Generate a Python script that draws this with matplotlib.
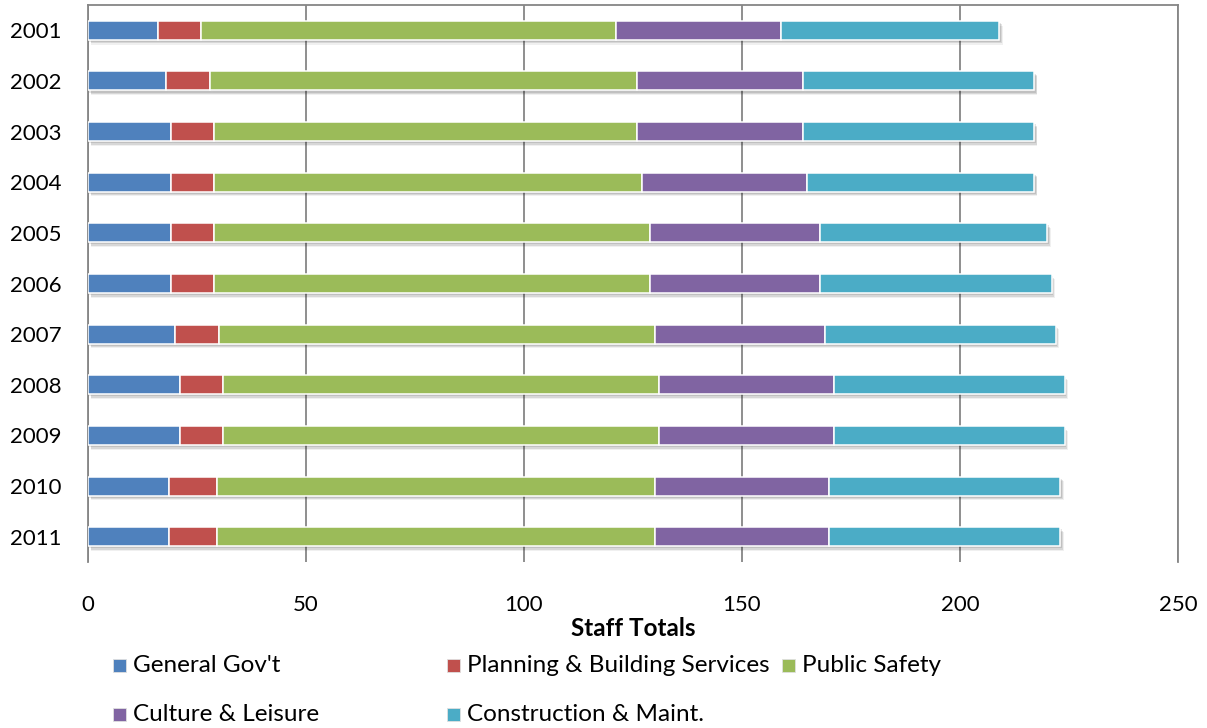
import matplotlib
matplotlib.use("Agg")
import matplotlib.pyplot as plt
import matplotlib.patheffects as pe
from matplotlib.patches import Rectangle

plt.rcParams['font.family'] = ['Lato', 'DejaVu Sans']

years = ['2001', '2002', '2003', '2004', '2005', '2006',
         '2007', '2008', '2009', '2010', '2011']
general_govt = [16, 18, 19, 19, 19, 19, 20, 21, 21, 18.5, 18.5]
planning_building = [10, 10, 10, 10, 10, 10, 10, 10, 10, 11, 11]
public_safety = [95, 98, 97, 98, 100, 100, 100, 100, 100, 100.5, 100.5]
culture_leisure = [38, 38, 38, 38, 39, 39, 39, 40, 40, 40, 40]
construction_maint = [50, 53, 53, 52, 52, 53, 53, 53, 53, 53, 53]

series_names = ["General Gov't", "Planning & Building Services", "Public Safety",
                "Culture & Leisure", "Construction & Maint."]
series_values = [general_govt, planning_building, public_safety,
                 culture_leisure, construction_maint]
colors = ['#4F81BD', '#C0504D', '#9BBB59', '#8064A2', '#4BACC6']

x_ticks = [0, 50, 100, 150, 200, 250]
x_label = 'Staff Totals'

fig = plt.figure(figsize=(12.07, 7.28), dpi=100)
W, H = 1207, 728
ax = fig.add_axes([88 / W, 1 - 562 / H, (1178 - 88) / W, (562 - 5) / H])

grid_color = '#868686'
ypos = list(range(len(years)))

shadow = [pe.SimplePatchShadow(offset=(1.0, -1.5), shadow_rgbFace='#000000', alpha=0.10),
          pe.SimplePatchShadow(offset=(1.8, -2.6), shadow_rgbFace='#000000', alpha=0.10),
          pe.SimplePatchShadow(offset=(2.4, -3.4), shadow_rgbFace='#000000', alpha=0.06),
          pe.Normal()]

left = [0.0] * len(years)
for name, vals, col in zip(series_names, series_values, colors):
    bars = ax.barh(ypos, vals, left=left, height=0.375, color=col,
                   edgecolor='white', linewidth=1.1, zorder=3, label=name)
    for b in bars:
        b.set_path_effects(shadow)
    left = [l + v for l, v in zip(left, vals)]

ax.set_xlim(0, 250)
ax.set_ylim(len(years) - 0.5, -0.5)
ax.set_yticks(ypos)
ax.set_yticklabels(years)
ax.set_xticks(x_ticks)
ax.set_xticklabels([str(t) for t in x_ticks])

ax.tick_params(axis='both', length=0, labelsize=16, colors='black')
ax.tick_params(axis='x', pad=24)
ax.tick_params(axis='y', pad=19)

ax.grid(axis='x', color=grid_color, linewidth=1.3, zorder=0)
ax.grid(axis='y', visible=False)
ax.set_axisbelow(True)

for s in ['left', 'top', 'right']:
    ax.spines[s].set_color(grid_color)
    ax.spines[s].set_linewidth(1.3)
ax.spines['bottom'].set_visible(False)

ax.set_xlabel(x_label, fontsize=17.5, fontweight='bold', labelpad=1)

# Legend laid out in fixed-width columns
col_x = [113, 447, 782]
row_y = [665.5, 714.5]
for i, (name, col) in enumerate(zip(series_names, colors)):
    r, c = divmod(i, 3)
    x0 = col_x[c]
    yc = row_y[r]
    fig.patches.append(Rectangle((x0 / W, 1 - (yc + 6.5) / H), 13 / W, 13 / H,
                                 transform=fig.transFigure, facecolor=col,
                                 edgecolor='#E0E0E0', linewidth=0.6))
    fig.text((x0 + 20) / W, 1 - yc / H, name, fontsize=17.5,
             ha='left', va='center', color='black')

fig.savefig('out.png', dpi=100, facecolor='white')
